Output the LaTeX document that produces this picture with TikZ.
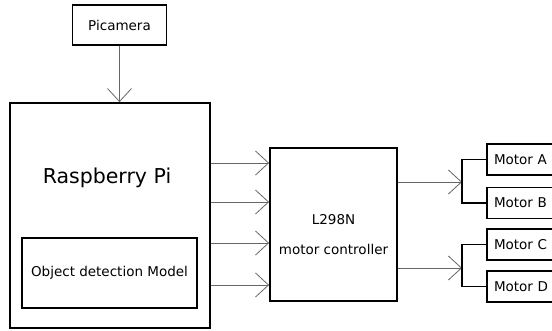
\documentclass[tikz,border=0pt]{standalone}
\usepackage{fontspec}
\setmainfont{DejaVu Sans}
\usetikzlibrary{positioning,arrows.meta}

\begin{document}
\begin{tikzpicture}[
  x=1pt, y=-1pt,
  blk/.style={draw, rectangle, line width=1.8pt, inner sep=0pt, font=\fontsize{13.5}{16}\selectfont, align=center},
  motor/.style={blk, minimum width=72pt, minimum height=31pt, text width=58pt, align=left},
  txt/.style={font=\fontsize{13.5}{16}\selectfont, align=center},
  sig/.style={draw=gray!80!black, line width=0.8pt, -{Straight Barb[length=13pt, width=24pt, line width=0.8pt]}},
  bus/.style={draw, line width=1.6pt}
]
\clip (0,0) rectangle (552,331);
\fill[white] (0,0) rectangle (552,331);
%% -- Camera and Pi ------------------------------------------------
\node[blk, minimum width=94pt, minimum height=40pt] (cam) at (119.5, 25) {Picamera};
\node[blk, minimum width=200pt, minimum height=225pt] (rpi) at (110, 215.5) {};
\node[font=\fontsize{20.5}{24}\selectfont] (rpiT) at (107, 178) {Raspberry Pi};
\node[blk, minimum width=175pt, minimum height=70pt] (odm) at (109.5, 273) {Object detection Model};
\draw[sig] (cam) -- (cam.south |- rpi.north);

%% -- Controller -----------------------------------------------------
\node[blk, minimum width=127pt, minimum height=153pt] (ctl) at (333.5, 224.5) {};
\node[txt] (ctlA) at (333.5, 220) {L298N};
\node[txt] (ctlB) at (333.5, 249) {motor controller};
\foreach \y in {163, 202, 243, 285}
  \draw[sig] (rpi.east |- 0,\y) -- (ctl.west |- 0,\y);

%% -- Motors ----------------------------------------------------------
\node[motor] (mA) at (523, 159.5) {Motor A};
\node[motor] (mB) at (523, 203)   {Motor B};
\node[motor] (mC) at (523, 244.5) {Motor C};
\node[motor] (mD) at (523, 286.5) {Motor D};
\coordinate (jAB) at (462, 182);
\coordinate (jCD) at (462, 268);
\draw[sig] (ctl.east |- jAB) -- (jAB);
\draw[sig] (ctl.east |- jCD) -- (jCD);
\draw[bus] (mA.west) -- (jAB |- mA.west) -- (jAB |- mB.west) -- (mB.west);
\draw[bus] (mC.west) -- (jCD |- mC.west) -- (jCD |- mD.west) -- (mD.west);
\end{tikzpicture}
\end{document}
